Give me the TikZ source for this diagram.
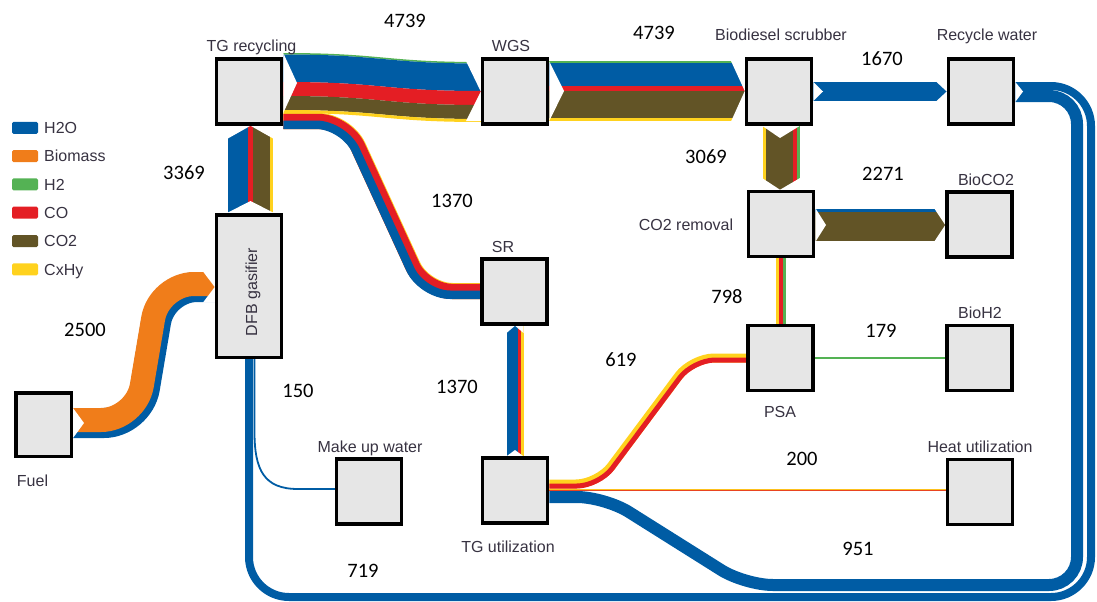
\documentclass[tikz,border=0pt]{standalone}
\usepackage{fontspec}
\setmainfont{Liberation Sans}
\newfontfamily\numfont{Carlito}
\usetikzlibrary{backgrounds}
\definecolor{h2ocol}{RGB}{0,92,164}
\definecolor{biocol}{RGB}{240,125,26}
\definecolor{h2col}{RGB}{84,178,84}
\definecolor{cocol}{RGB}{228,30,36}
\definecolor{cotwocol}{RGB}{98,84,38}
\definecolor{cxhycol}{RGB}{255,210,30}
\definecolor{boxgray}{RGB}{230,230,230}
\definecolor{labelgray}{RGB}{55,50,65}
\tikzset{
  unit/.style={draw,line width=3.5pt,fill=boxgray,minimum width=65pt,minimum height=65pt,inner sep=0pt},
  lbl/.style={font=\fontsize{16}{18}\selectfont,text=labelgray,anchor=base,inner sep=0pt},
  num/.style={font=\numfont\fontsize{20.5}{22}\selectfont,anchor=base,inner sep=0pt},
  swatch/.style={rounded corners=1.5pt,minimum width=26pt,minimum height=12pt,inner sep=0pt},
  cut/.style={fill=white},
}
\begin{document}
\begin{tikzpicture}[x=1pt,y=-1pt]
  \useasboundingbox (0,0) rectangle (1097,602);
  \node[unit] (tgrec) at (249,91.5) {};
  \node[unit] (wgs) at (515,91.5) {};
  \node[unit] (scrub) at (779,91.5) {};
  \node[unit] (recyc) at (981,91.5) {};
  \node[unit] (co2rem) at (781,224) {};
  \node[unit] (bioco2) at (979.5,224.5) {};
  \node[unit] (psa) at (780.5,358) {};
  \node[unit] (bioh2) at (979.5,358) {};
  \node[unit] (heat) at (980,492) {};
  \node[unit] (sr) at (514.5,291.5) {};
  \node[unit] (tgutil) at (515,490.5) {};
  \node[unit] (makeup) at (369,491.5) {};
  \node[unit,minimum height=142.5pt] (dfb) at (249,286) {};
  \node[unit,minimum width=55.5pt,minimum height=63.5pt] (fuel) at (43.5,424.5) {};

  \begin{scope}[on background layer]
    \draw[h2ocol,line width=8pt,rounded corners=40pt] (recyc.east |- 0,86) -- (1091,86) -- (1091,597) -- (249,597) [rounded corners=26pt] -- (dfb.south);
    \draw[h2ocol,line width=12pt,rounded corners=28pt] (recyc.east |- 0,96) -- (1077,96) -- (1077,585) -- (745,585) -- (605,497) -- (tgutil.east |- 0,497);
    \draw[h2ocol,line width=1.8pt] (makeup.west |- 0,489) -- (298,489) .. controls (264,489) and (254.5,470) .. (254.5,432) -- (254.5,0 |- dfb.south);
    \draw[h2ocol,line width=30pt,rounded corners=35pt] (fuel.east |- 0,423) -- (139,423) -- (162,287) -- (dfb.west |- 0,287);
    \draw[biocol,line width=24pt,rounded corners=35pt] (fuel.east |- 0,420) -- (136,420) -- (159,284) -- (dfb.west |- 0,284);
    \foreach \xa/\xb/\col in {228/248/h2ocol,248/253/cocol,253/270/cotwocol,270/273/cxhycol}
      \fill[\col] (\xa,0 |- dfb.north) rectangle (\xb,0 |- tgrec.south);
    \foreach \ya/\yb/\col in {0/1.5/h2col,1.5/29/h2ocol,29/43/cocol,43/57/cotwocol,57/60/cxhycol}
      \fill[\col] (tgrec.east |- 0,53+\ya) .. controls (383,53+\ya) and (383,62+\ya) .. (wgs.west |- 0,62+\ya)
        -- (wgs.west |- 0,62+\yb) .. controls (383,62+\yb) and (383,53+\yb) .. (tgrec.east |- 0,53+\yb) -- cycle;
    \draw[cxhycol,line width=16pt,rounded corners=28pt] (tgrec.east |- 0,121) -- (346.5,121) -- (424.4,291) -- (sr.west |- 0,291);
    \draw[cocol,line width=15.2pt,rounded corners=28pt] (tgrec.east |- 0,121.4) -- (346.2,121.4) -- (424.1,291.4) -- (sr.west |- 0,291.4);
    \draw[h2ocol,line width=8.5pt,rounded corners=28pt] (tgrec.east |- 0,124.75) -- (344.1,124.75) -- (422,294.75) -- (sr.west |- 0,294.75);
    \foreach \ya/\yb/\col in {61.5/63/h2col,63/86/h2ocol,86/90.5/cocol,90.5/118/cotwocol,118/121/cxhycol}
      \fill[\col] (wgs.east |- 0,\ya) rectangle (scrub.west |- 0,\yb);
    \fill[h2ocol] (scrub.east |- 0,82) rectangle (recyc.west |- 0,101);
    \foreach \xa/\xb/\col in {763/766/cxhycol,766/793/cotwocol,793/797/cocol,797/799.5/h2col}
      \fill[\col] (\xa,0 |- scrub.south) rectangle (\xb,0 |- co2rem.north);
    \foreach \ya/\yb/\col in {209/212/h2ocol,212/241/cotwocol}
      \fill[\col] (co2rem.east |- 0,\ya) rectangle (bioco2.west |- 0,\yb);
    \foreach \xa/\xb/\col in {776/779/cxhycol,779/783/cocol,783/786/h2col}
      \fill[\col] (\xa,0 |- co2rem.south) rectangle (\xb,0 |- psa.north);
    \draw[h2col,line width=2pt] (psa.east |- 0,357.5) -- (bioh2.west |- 0,357.5);
    \foreach \xa/\xb/\col in {507/518/h2ocol,518/521/cocol,521/523.5/cxhycol}
      \fill[\col] (\xa,0 |- sr.south) rectangle (\xb,0 |- tgutil.north);
    \draw[cxhycol,line width=9pt,rounded corners=22pt] (tgutil.east |- 0,484) -- (598,484) -- (692,358) -- (psa.west |- 0,358);
    \draw[cocol,line width=5pt,rounded corners=22pt] (tgutil.east |- 0,486) -- (599,486) -- (693,360) -- (psa.west |- 0,360);
    \draw[cxhycol!80!biocol,line width=1.5pt] (tgutil.east |- 0,489.6) -- (heat.west |- 0,489.6);
    \draw[cocol!60!biocol,line width=0.6pt] (tgutil.east |- 0,490.6) -- (heat.west |- 0,490.6);

    \fill[cut] (tgrec.east |- 0,53) -- (297,83) -- (tgrec.east |- 0,113) -- cycle;
    \fill[cut] (466,61) -- (wgs.west |- 0,61) -- (wgs.west |- 0,91.5) -- cycle;
    \fill[cut] (466,121) -- (wgs.west |- 0,121) -- (wgs.west |- 0,91.5) -- cycle;
    \fill[cut] (wgs.east |- 0,61.5) -- (564,91) -- (wgs.east |- 0,121) -- cycle;
    \fill[cut] (731,61) -- (scrub.west |- 0,61) -- (scrub.west |- 0,91) -- cycle;
    \fill[cut] (731,121.5) -- (scrub.west |- 0,121.5) -- (scrub.west |- 0,91) -- cycle;
    \fill[cut] (scrub.east |- 0,82) -- (823,91.5) -- (scrub.east |- 0,101) -- cycle;
    \fill[cut] (936,81.5) -- (recyc.west |- 0,81.5) -- (recyc.west |- 0,91.5) -- cycle;
    \fill[cut] (936,101.5) -- (recyc.west |- 0,101.5) -- (recyc.west |- 0,91.5) -- cycle;
    \fill[cut] (recyc.east |- 0,82) -- (1023,91.5) -- (recyc.east |- 0,102) -- cycle;
    \fill[cut] (227,0 |- dfb.north) -- (250.5,201) -- (274,0 |- dfb.north) -- cycle;
    \fill[cut] (227,139) -- (227,0 |- tgrec.south) -- (250.5,0 |- tgrec.south) -- cycle;
    \fill[cut] (274,139) -- (274,0 |- tgrec.south) -- (250.5,0 |- tgrec.south) -- cycle;
    \fill[cut] (762,0 |- scrub.south) -- (780,138) -- (800,0 |- scrub.south) -- cycle;
    \fill[cut] (762,178) -- (762,0 |- co2rem.north) -- (780,0 |- co2rem.north) -- cycle;
    \fill[cut] (800,178) -- (800,0 |- co2rem.north) -- (780,0 |- co2rem.north) -- cycle;
    \fill[cut] (co2rem.east |- 0,208) -- (826,225) -- (co2rem.east |- 0,242) -- cycle;
    \fill[cut] (934,208) -- (bioco2.west |- 0,208) -- (bioco2.west |- 0,225) -- cycle;
    \fill[cut] (934,242) -- (bioco2.west |- 0,242) -- (bioco2.west |- 0,225) -- cycle;
    \fill[cut] (fuel.east |- 0,408) -- (84,423) -- (fuel.east |- 0,438) -- cycle;
    \fill[cut] (203,271.5) -- (dfb.west |- 0,271.5) -- (dfb.west |- 0,287) -- cycle;
    \fill[cut] (203,302.5) -- (dfb.west |- 0,302.5) -- (dfb.west |- 0,287) -- cycle;
    \fill[cut] (506.5,333) -- (506.5,0 |- sr.south) -- (515,0 |- sr.south) -- cycle;
    \fill[cut] (523.5,333) -- (523.5,0 |- sr.south) -- (515,0 |- sr.south) -- cycle;
    \fill[cut] (506.5,0 |- tgutil.north) -- (515,450) -- (523.5,0 |- tgutil.north) -- cycle;
  \end{scope}

  \foreach \col/\name [count=\i] in {h2ocol/H2O,biocol/Biomass,h2col/H2,cocol/CO,cotwocol/CO2,cxhycol/CxHy} {
    \node[swatch,fill=\col] (sw\i) at (25,99.5+28.3*\i) {};
    \node[lbl,anchor=base west] (lg\i) at (44,105.3+28.3*\i) {\name};
  }

  \node[lbl] (tgreclbl) at (251.5,52) {TG recycling};
  \node[lbl] (wgslbl) at (511,52) {WGS};
  \node[lbl] (scrublbl) at (781,41) {Biodiesel scrubber};
  \node[lbl] (recyclbl) at (987,41) {Recycle water};
  \node[lbl] (co2remlbl) at (686,230) {CO2 removal};
  \node[lbl] (bioco2lbl) at (986,185) {BioCO2};
  \node[lbl] (bioh2lbl) at (980,318) {BioH2};
  \node[lbl] (psalbl) at (780,417) {PSA};
  \node[lbl] (srlbl) at (503,252) {SR};
  \node[lbl] (makeuplbl) at (370,452) {Make up water};
  \node[lbl] (heatlbl) at (980,452) {Heat utilization};
  \node[lbl] (tgutillbl) at (508,552) {TG utilization};
  \node[lbl] (fuellbl) at (32.5,486) {Fuel};
  \node[lbl,anchor=center,rotate=90] (dfblbl) at (253,292) {DFB gasifier};

  \node[num] (qa) at (405,28) {4739};
  \node[num] (qb) at (654,40) {4739};
  \node[num] (qc) at (882,66) {1670};
  \node[num] (qd) at (184,179) {3369};
  \node[num] (qe) at (85,336) {2500};
  \node[num] (qf) at (298,397) {150};
  \node[num] (qg) at (452,207) {1370};
  \node[num] (qh) at (457,393) {1370};
  \node[num] (qi) at (706,163) {3069};
  \node[num] (qj) at (883,180) {2271};
  \node[num] (qk) at (727,303) {798};
  \node[num] (ql) at (881,337) {179};
  \node[num] (qm) at (621,366) {619};
  \node[num] (qn) at (802,465) {200};
  \node[num] (qo) at (858,555) {951};
  \node[num] (qp) at (363,577) {719};
\end{tikzpicture}
\end{document}
